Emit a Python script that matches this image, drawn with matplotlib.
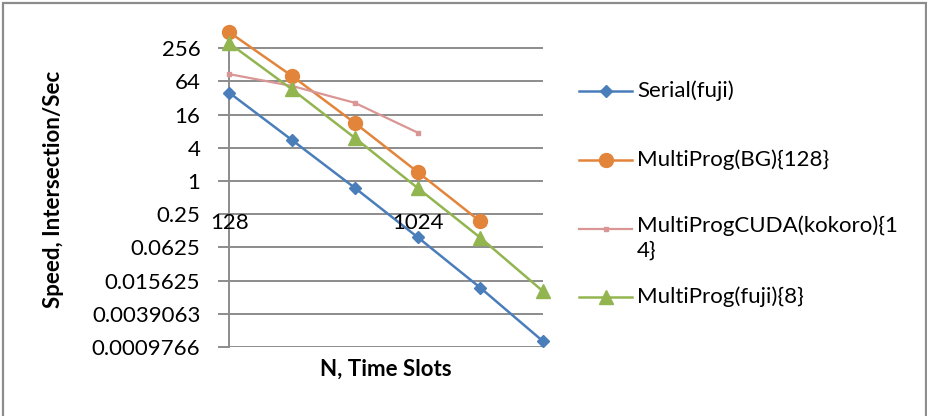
import matplotlib
matplotlib.use('Agg')
import matplotlib.pyplot as plt
from matplotlib.lines import Line2D
from matplotlib.patches import Rectangle

# ---------------- data ----------------
n_slots = [128, 256, 512, 1024, 2048, 4096]
x_label_every = 3  # Excel shows every 3rd category label

serial_fuji = [39.7, 5.5, 0.75, 0.096, 0.0116, 0.00124]
multiprog_bg = [497, 80, 11.3, 1.46, 0.185]
multiprog_cuda = [86.8, 53, 26.2, 7.57]
multiprog_fuji = [313, 45.8, 6.05, 0.75, 0.094, 0.0100]

series_names = ['Serial(fuji)', 'MultiProg(BG){128}',
                'MultiProgCUDA(kokoro){14}', 'MultiProg(fuji){8}']

y_tick_values = [256, 64, 16, 4, 1, 0.25, 0.0625, 0.015625, 0.00390625, 0.0009765625]
y_tick_labels = ['256', '64', '16', '4', '1', '0.25', '0.0625', '0.015625',
                 '0.0039063', '0.0009766']

# ---------------- style ----------------
W, H = 928, 416
FONT = 'Lato'
FS = 16
GRID = '#8c8c8c'

colors = ['#4A7EBB', '#E3843B', '#D99694', '#92B550']
markers = ['D', 'o', 's', '^']
msizes = [6.6, 10, 3.5, 10.5]
lwidths = [1.8, 1.8, 1.6, 1.8]

plt.rcParams['font.family'] = [FONT, 'DejaVu Sans']

fig = plt.figure(figsize=(W / 100, H / 100), dpi=100)

ax_left, ax_right = 229.5, 543.0
ax_top, ax_bottom = 31.7, 347.0
ax = fig.add_axes([ax_left / W, 1 - ax_bottom / H,
                   (ax_right - ax_left) / W, (ax_bottom - ax_top) / H])

ax.set_yscale('log', base=2)
ax.set_ylim(y_tick_values[-1], 512)
ax.set_xlim(0, len(n_slots) - 1)

all_series = [serial_fuji, multiprog_bg, multiprog_cuda, multiprog_fuji]
for vals, c, m, ms, lw in zip(all_series, colors, markers, msizes, lwidths):
    ax.plot(range(len(vals)), vals, color=c, marker=m, markersize=ms,
            markerfacecolor=c, markeredgecolor=c, linewidth=lw,
            clip_on=False, zorder=3)

ax.set_yticks(y_tick_values)
ax.set_yticklabels(y_tick_labels)
ax.yaxis.set_minor_locator(matplotlib.ticker.NullLocator())
ax.tick_params(axis='y', direction='out', length=8, width=1.4, color=GRID,
               pad=13, labelsize=FS)
ax.set_xticks([])
ax.grid(axis='y', color=GRID, linewidth=1.4)
ax.set_axisbelow(True)

for s in ['top', 'right', 'bottom']:
    ax.spines[s].set_visible(False)
ax.spines['left'].set_color(GRID)
ax.spines['left'].set_linewidth(1.4)

# category labels (placed below the horizontal axis crossing at y = 1)
for i in range(0, len(n_slots), x_label_every):
    ax.annotate(str(n_slots[i]), xy=(i, 1), xytext=(0, -23),
                textcoords='offset points', ha='center', va='top',
                fontsize=FS, annotation_clip=False)

ax.set_ylabel('Speed, Intersection/Sec', fontsize=FS, fontweight='bold')
ax.yaxis.set_label_coords((54 - ax_left) / (ax_right - ax_left), 0.5)
ax.yaxis.label.set_va('center')
ax.set_xlabel('N, Time Slots', fontsize=FS, fontweight='bold')
ax.xaxis.set_label_coords(0.5, -(369 - ax_bottom) / (ax_bottom - ax_top))
ax.xaxis.label.set_va('center')

# ---------------- manual legend ----------------
leg_y = [91, 160, 229, 297]
for name, c, m, ms, lw, yy in zip(series_names, colors, markers, msizes, lwidths, leg_y):
    fy = 1 - yy / H
    fig.add_artist(Line2D([579 / W, 632 / W], [fy, fy], color=c, linewidth=lw,
                          transform=fig.transFigure))
    fig.add_artist(Line2D([605.5 / W], [fy], color=c, marker=m, markersize=ms,
                          markerfacecolor=c, markeredgecolor=c, linestyle='none',
                          transform=fig.transFigure))
    label = name if len(name) <= 23 else name[:23] + '\n' + name[23:]
    if '\n' in label:
        fig.text(637 / W, fy + 14 / H, label, fontsize=FS, ha='left', va='top',
                 linespacing=1.3)
    else:
        fig.text(637 / W, fy, label, fontsize=FS, ha='left', va='center')

# chart border
fig.add_artist(Rectangle((3.5 / W, -0.05), 922.5 / W, 1.05 - 2.5 / H,
                         transform=fig.transFigure, fill=False,
                         edgecolor=GRID, linewidth=1.6))

fig.savefig('out.png', dpi=100)
